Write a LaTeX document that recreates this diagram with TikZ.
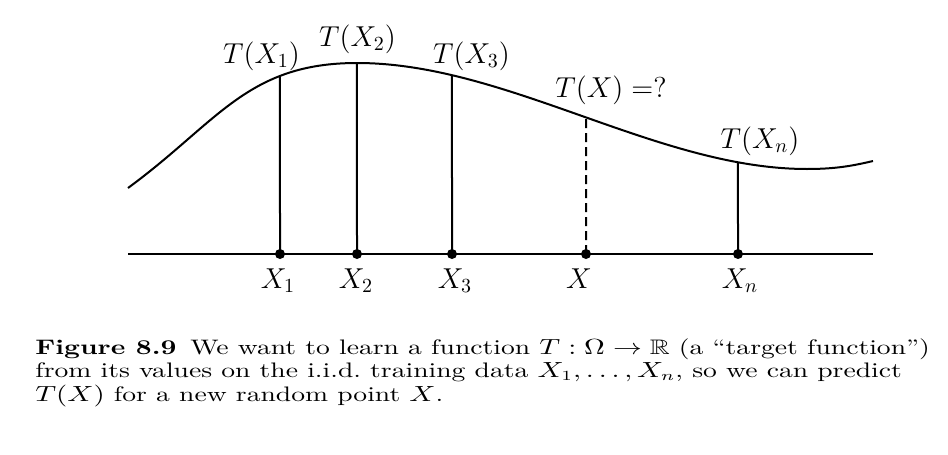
\documentclass[tikz,border=0pt]{standalone}
\usepackage{amssymb}
\usepackage{graphicx}
\usetikzlibrary{intersections}
\newcommand{\capline}[1]{\scalebox{1.315}[1]{#1}}
\begin{document}
\begin{tikzpicture}[x=0.5pt,y=-0.5pt,
  axisline/.style={line width=1pt},
  stem/.style={line width=1pt},
  dot/.style={circle,fill=black,inner sep=0pt,minimum size=5pt},
  lbl/.style={inner sep=0pt,anchor=base,font=\fontsize{14}{17}\selectfont},
  captext/.style={inner sep=0pt,anchor=base west,font=\fontsize{10.5}{12}\selectfont}]
\useasboundingbox (0,0) rectangle (948,455);
% axis
\coordinate (al) at (128,254);
\coordinate (ar) at (873,254);
\draw[axisline] (al) -- (ar);
% curve
\coordinate (c0) at (128,188);
\coordinate (cpk) at (357,63);
\coordinate (cmin) at (807,169);
\coordinate (cend) at (873,161);
\draw[line width=1pt,name path=curve] (c0) .. controls (218,122) and (247,63) .. (cpk)
  .. controls (507,63) and (657,169) .. (cmin)
  .. controls (835,169) and (852,166) .. (cend);
% sample points
\node[dot] (x1) at (280,254) {};
\node[dot] (x2) at (357,254) {};
\node[dot] (x3) at (452,254) {};
\node[dot] (x) at (586,254) {};
\node[dot] (xn) at (738,254) {};
% vertical guides and their meeting points with the curve
\foreach \p in {x1,x2,x3,x,xn}{
  \path[name path=v\p] (\p.center) -- ++(0,-260);
  \path[name intersections={of=curve and v\p,by={t\p}}];
}
\draw[stem] (x1.center) -- (tx1);
\draw[stem] (x2.center) -- (tx2);
\draw[stem] (x3.center) -- (tx3);
\draw[stem] (xn.center) -- (txn);
\draw[stem,dash pattern=on 4.5pt off 2.5pt] (x.center) -- (tx);
% labels
\node[lbl] (lt1) at (261.5,63) {$T(X_1)$};
\node[lbl] (lt2) at (357.5,46.5) {$T(X_2)$};
\node[lbl] (lt3) at (471.5,63) {$T(X_3)$};
\node[lbl] (lt) at (611,97) {$T(X)=?$};
\node[lbl] (ltn) at (760,148) {$T(X_n)$};
\node[lbl] (lx1) at (278,288) {$X_1$};
\node[lbl] (lx2) at (356,288) {$X_2$};
\node[lbl] (lx3) at (455,288) {$X_3$};
\node[lbl] (lx) at (579,288) {$X$};
\node[lbl] (lxn) at (740,288) {$X_n$};
% caption
\node[captext] (c1) at (35,354) {\capline{\textbf{Figure 8.9}\enspace We want to learn a function $T:\Omega\to\mathbb{R}$ (a ``target function'')}};
\node[captext] (c2) at (35,377.5) {\capline{from its values on the i.i.d.\ training data $X_1,\ldots,X_n$, so we can predict}};
\node[captext] (c3) at (35,401) {\capline{$T(X)$ for a new random point $X$.}};
\end{tikzpicture}
\end{document}
